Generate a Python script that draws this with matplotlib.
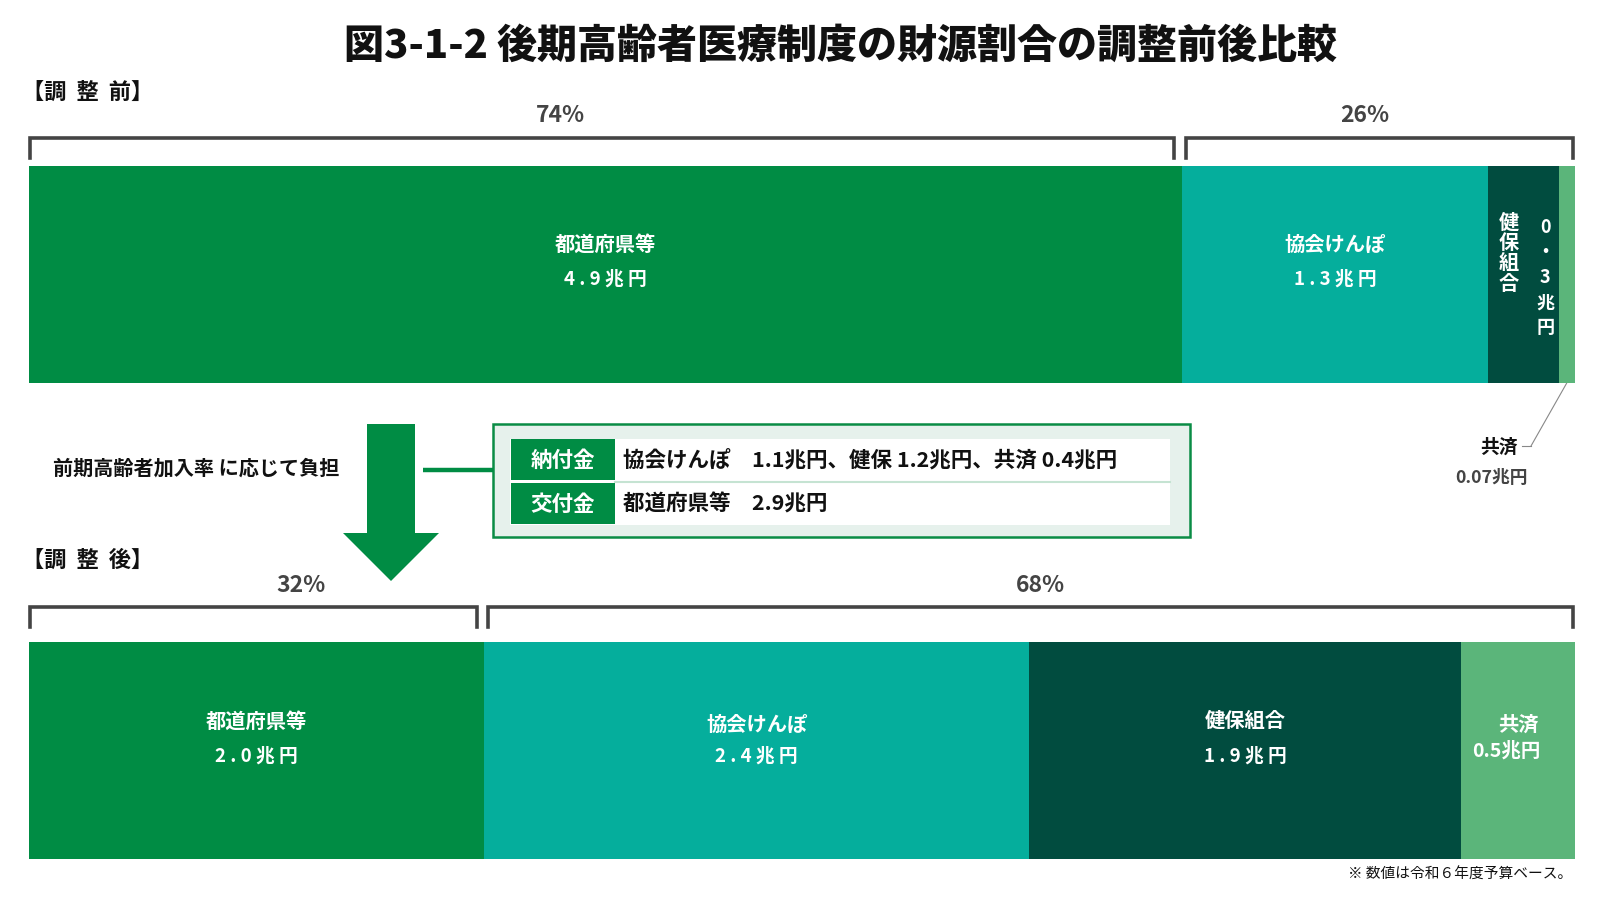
import numpy as np
import matplotlib
matplotlib.use('Agg')
import matplotlib.pyplot as plt
from matplotlib.patches import FancyArrow, Rectangle

plt.rcParams['font.family'] = ['Noto Sans CJK JP', 'DejaVu Sans']

# data
names = ['都道府県等', '協会けんぽ', '健保組合', '共済']
before = [4.9, 1.3, 0.3, 0.07]
after = [2.0, 2.4, 1.9, 0.5]
before_lbl = ['4 . 9 兆 円', '1 . 3 兆 円', '0\n・\n3\n兆\n円', '0.07兆円']
after_lbl = ['2 . 0 兆 円', '2 . 4 兆 円', '1 . 9 兆 円', '0.5兆円']
before_pct = ['74%', '26%']
after_pct = ['32%', '68%']
colors = ['#008c44', '#05ae9c', '#014c3f', '#5bb57a']

title = '図3-1-2 後期高齢者医療制度の財源割合の調整前後比較'
pay_rows = [('納付金', '協会けんぽ　1.1兆円、健保 1.2兆円、共済 0.4兆円'),
            ('交付金', '都道府県等　2.9兆円')]
note = '※ 数値は令和６年度予算ベース。'

W, H = 1600, 900
fig = plt.figure(figsize=(16, 9), dpi=100)
bg = fig.add_axes([0, 0, 1, 1])
bg.set_xlim(0, W)
bg.set_ylim(H, 0)
bg.axis('off')

BAR_L, BAR_W, BAR_H = 29, 1546, 217


def bar_axes(top_px):
    ax = fig.add_axes([BAR_L / W, 1 - (top_px + BAR_H) / H, BAR_W / W, BAR_H / H])
    ax.set_ylim(-0.5, 0.5)
    ax.axis('off')
    return ax


def draw_bar(ax, vals):
    total = sum(vals)
    lefts = np.concatenate([[0], np.cumsum(vals)[:-1]])
    ax.barh(0, vals, left=lefts, height=1, color=colors, linewidth=0)
    ax.set_xlim(0, total)
    return lefts, total


def draw_brackets(ax, vals, total, y_line, y_tick, gap_l, gap_r):
    px = total / BAR_W
    b = vals[0]
    spans = [(1.5 * px, b - gap_l * px), (b + gap_r * px, total - 2.5 * px)]
    for x0, x1 in spans:
        ax.plot([x0, x0, x1, x1], [y_tick, y_line, y_line, y_tick], color='#444444',
                lw=2.6, solid_joinstyle='miter', clip_on=False)


bg.text(841, 46, title, ha='center', va='center', fontsize=28.8, fontweight='heavy', color='#111111')
bg.text(22, 92, '【調  整  前】', ha='left', va='center', fontsize=16, fontweight='bold', color='#111111')
bg.text(22, 560, '【調  整  後】', ha='left', va='center', fontsize=16, fontweight='bold', color='#111111')

# before
ax1 = bar_axes(166)
l1, t1 = draw_bar(ax1, before)
draw_brackets(ax1, before, t1, 0.5 + 28 / BAR_H, 0.5 + 8 / BAR_H, 8, 4)
for s, xf in zip(before_pct, [0.344, 0.864]):
    ax1.text(xf * t1, 0.5 + 51 / BAR_H, s, ha='center', va='center', fontsize=16.5,
             fontweight='bold', color='#444444')
for i in range(2):
    cx = l1[i] + before[i] / 2
    ax1.text(cx, 0.14, names[i], ha='center', va='center', fontsize=14.6, fontweight='bold', color='white')
    ax1.text(cx, -0.02, before_lbl[i], ha='center', va='center', fontsize=13.5, fontweight='bold', color='white')
ax1.text(l1[2] + before[2] * 0.3, 0.10, '\n'.join(names[2]), ha='center', va='center', fontsize=14.5,
         fontweight='bold', color='white', linespacing=0.95)
ax1.text(l1[2] + before[2] * 0.81, -0.015, before_lbl[2], ha='center', va='center', fontsize=13,
         fontweight='bold', color='white', linespacing=1.4)

# 共済 leader line
kx = l1[3] + before[3] / 2
bg.annotate('', xy=(kx, -0.5), xycoords=ax1.transData, xytext=(1531, 446),
            textcoords='data', arrowprops=dict(arrowstyle='-', color='#888888', lw=0.8,
                                               shrinkA=0, shrinkB=0))
bg.plot([1522, 1531], [446, 446], color='#888888', lw=0.8)
bg.text(1499, 447, names[3], ha='center', va='center', fontsize=13.5, fontweight='bold', color='#111111')
bg.text(1492, 478, before_lbl[3], ha='center', va='center', fontsize=12.8, fontweight='bold', color='#444444')

# after
ax2 = bar_axes(642)
l2, t2 = draw_bar(ax2, after)
draw_brackets(ax2, after, t2, 0.5 + 35 / BAR_H, 0.5 + 15 / BAR_H, 7, 4)
for s, xf in zip(after_pct, [0.176, 0.654]):
    ax2.text(xf * t2, 0.5 + 56 / BAR_H, s, ha='center', va='center', fontsize=16.5,
             fontweight='bold', color='#444444')
name_y = [0.136, 0.122, 0.136, 0.122]
val_y = [-0.025, -0.025, -0.025, 0.0]
for i in range(4):
    cx = l2[i] + after[i] / 2
    dx = -0.05 if i == 3 else 0
    ax2.text(cx, name_y[i], names[i], ha='center', va='center', fontsize=14.6, fontweight='bold', color='white')
    ax2.text(cx + dx, val_y[i], after_lbl[i], ha='center', va='center',
             fontsize=13.5 if i < 3 else 14, fontweight='bold', color='white')

# arrow and explanation
bg.add_patch(FancyArrow(391, 424, 0, 157, width=48, head_width=96, head_length=48,
                        length_includes_head=True, color='#008c44', linewidth=0))
bg.text(53, 468, '前期高齢者加入率 に応じて負担', ha='left', va='center', fontsize=14.5,
        fontweight='bold', color='#111111')
bg.plot([423, 493], [470, 470], color='#008c44', lw=3.2, solid_capstyle='butt')

# 納付金 / 交付金 box
bg.add_patch(Rectangle((493, 424), 697, 113, facecolor='#e6f1ec', edgecolor='#0a8c45', lw=1.8))
bg.add_patch(Rectangle((510, 439), 660, 86, facecolor='white', edgecolor='none'))
bg.plot([615, 1170], [482, 482], color='#c5e3d2', lw=1.5)
for k, (lab, txt) in enumerate(pay_rows):
    y0 = 439 + k * 44
    bg.add_patch(Rectangle((511, y0), 104, 41, facecolor='#008c44', edgecolor='none'))
    bg.text(563, y0 + 21, lab, ha='center', va='center', fontsize=15.5, fontweight='bold', color='white')
    bg.text(623, y0 + 21, txt, ha='left', va='center', fontsize=15.5, fontweight='bold', color='#111111')

bg.text(1572, 875, note, ha='right', va='center', fontsize=10.6, color='#111111')

fig.savefig('out.png', dpi=100)
